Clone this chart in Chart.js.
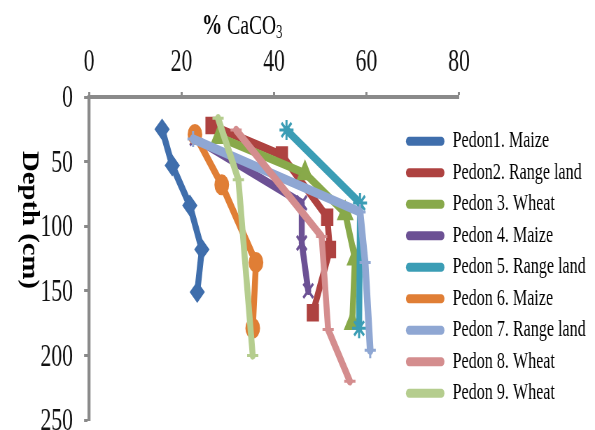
<!DOCTYPE html>
<html>
<head>
<meta charset="utf-8">
<script src="https://cdn.jsdelivr.net/npm/chart.js@4/dist/chart.umd.min.js"></script>
<style>
html,body{margin:0;padding:0;background:#fff;overflow:hidden}
#c{display:block;width:595px !important;height:430px !important}
</style>
</head>
<body>
<canvas id="c" width="850" height="430" style="width:595px;height:430px;display:block"></canvas>
<script>
// ---- data ----
const seriesLabels = ['Pedon1. Maize','Pedon2. Range land','Pedon 3. Wheat','Pedon 4. Maize','Pedon 5. Range land','Pedon 6. Maize','Pedon 7. Range land','Pedon 8. Wheat','Pedon 9. Wheat'];
const pedon1CaCO3 = [15.8, 18.0, 21.8, 24.4, 23.4];
const pedon1Depth = [25, 53, 84, 118, 151];
const pedon2CaCO3 = [26.5, 41.7, 51.5, 52.1, 48.4];
const pedon2Depth = [22, 45, 93, 118, 167];
const pedon3CaCO3 = [28.1, 46.7, 55.4, 57.5, 56.9];
const pedon3Depth = [31, 59, 90, 125, 175];
const pedon4CaCO3 = [22.9, 46.0, 46.0, 47.4];
const pedon4Depth = [32, 82, 113, 150];
const pedon5CaCO3 = [42.7, 58.6, 58.4];
const pedon5Depth = [25.5, 82, 179];
const pedon6CaCO3 = [22.9, 28.7, 36.1, 35.4];
const pedon6Depth = [29, 68, 128, 179];
const pedon7CaCO3 = [22.5, 58.6, 59.7, 60.8];
const pedon7Depth = [32.5, 89, 128, 196];
const pedon8CaCO3 = [31.8, 50.3, 51.7, 56.4];
const pedon8Depth = [25.5, 108, 180, 220];
const pedon9CaCO3 = [27.9, 32.3, 35.4];
const pedon9Depth = [16.5, 64, 200];
const xTickValues = [0, 20, 40, 60, 80];
const yTickValues = [0, 50, 100, 150, 200, 250];
const xTitlePercent = '%';
const xTitleMain = ' CaCO';
const xTitleSub = '3';
const yTitle = 'Depth (cm)';

const caco3 = [pedon1CaCO3, pedon2CaCO3, pedon3CaCO3, pedon4CaCO3, pedon5CaCO3, pedon6CaCO3, pedon7CaCO3, pedon8CaCO3, pedon9CaCO3];
const depth = [pedon1Depth, pedon2Depth, pedon3Depth, pedon4Depth, pedon5Depth, pedon6Depth, pedon7Depth, pedon8Depth, pedon9Depth];

// ---- styles ----
const colors = ['#3F6EAC','#AE4240','#88A94A','#6C5194','#3B9DB5','#E07E35','#8FA7D3','#D48D8E','#B5CD8E'];
const pStyles = ['rectRot','rect','triangle','crossRot','star','circle','cross','line','line'];
const pRadius = [9.5, 11, 12, 10, 10, 9.5, 8, 8, 8];
const pBorder = [2, 2, 2, 3, 3, 2, 3, 3, 3];
const lineW = [8.5, 8.5, 8.5, 8.5, 8.5, 8.5, 9.5, 8.5, 8.5];

const W = 850, SX = 595 / W;
const px = v => v / SX;            // page px -> canvas px (horizontal)

const datasets = seriesLabels.map((lab, i) => ({
  label: lab,
  data: caco3[i].map((v, j) => ({x: v, y: depth[i][j]})),
  borderColor: colors[i],
  backgroundColor: colors[i],
  pointBackgroundColor: colors[i],
  pointBorderColor: colors[i],
  borderWidth: lineW[i],
  pointStyle: pStyles[i],
  pointRadius: pRadius[i],
  pointBorderWidth: pBorder[i],
  showLine: true,
  tension: 0,
  borderJoinStyle: 'round',
  borderCapStyle: 'round',
  order: 9 - i
}));

const titlesPlugin = {
  id: 'titlesAndLegendPlace',
  afterLayout(chart) {
    const lg = chart.legend;
    if (lg) {
      lg.left = px(400); lg.right = W; lg.top = 121.3; lg.bottom = 430;
      lg.width = lg.right - lg.left; lg.height = lg.bottom - lg.top;
    }
  },
  afterDraw(chart) {
    const ctx = chart.ctx;
    ctx.save();
    ctx.fillStyle = '#000';
    ctx.textAlign = 'left';
    ctx.textBaseline = 'alphabetic';
    let x = px(202);
    ctx.font = 'bold 29px "Liberation Serif"';
    ctx.fillText(xTitlePercent, x, 34);
    x += ctx.measureText(xTitlePercent).width;
    ctx.font = '28px "Liberation Serif"';
    ctx.fillText(xTitleMain, x, 34);
    x += ctx.measureText(xTitleMain).width;
    ctx.font = '18px "Liberation Serif"';
    ctx.fillText(xTitleSub, x, 38);
    ctx.translate(px(29), 220);
    ctx.rotate(Math.PI / 2);
    ctx.scale(0.87, 1);
    ctx.font = 'bold 33px "Liberation Serif"';
    ctx.textAlign = 'center';
    ctx.textBaseline = 'middle';
    ctx.fillText(yTitle, 0, 0);
    ctx.restore();
  }
};

Chart.defaults.font.family = '"Liberation Serif", "Times New Roman", serif';
const defaultGen = Chart.defaults.plugins.legend.labels.generateLabels;

const chart = new Chart(document.getElementById('c'), {
  type: 'scatter',
  data: {datasets},
  options: {
    responsive: false,
    devicePixelRatio: 1,
    animation: false,
    events: [],
    layout: {autoPadding: false, padding: {left: 0, top: 0, right: W - 20 - px(459), bottom: 10}},
    scales: {
      x: {
        type: 'linear', position: 'top', min: 0, max: 80,
        afterBuildTicks: s => { s.ticks = xTickValues.map(v => ({value: v})); },
        afterFit: s => { s.height = 97; s.paddingLeft = 0; s.paddingRight = 0; },
        ticks: {font: {size: 31}, color: '#111', padding: 11, maxRotation: 0, autoSkip: false},
        grid: {display: true, drawOnChartArea: false, drawTicks: true, tickLength: 5, tickWidth: 3, tickColor: '#8a8a8a'},
        border: {display: true, color: '#8a8a8a', width: 4}
      },
      y: {
        type: 'linear', position: 'left', min: 0, max: 250, reverse: true,
        afterBuildTicks: s => { s.ticks = yTickValues.map(v => ({value: v})); },
        afterFit: s => { s.width = px(89); s.paddingTop = 0; s.paddingBottom = 0; },
        ticks: {font: {size: 31}, color: '#111', padding: 16, autoSkip: false, labelOffset: 2},
        grid: {display: true, drawOnChartArea: false, drawTicks: true, tickLength: 7, tickWidth: 3, tickColor: '#8a8a8a'},
        border: {display: true, color: '#8a8a8a', width: 4.3}
      }
    },
    plugins: {
      tooltip: {enabled: false},
      title: {display: false},
      legend: {
        display: true, position: 'right', align: 'start', maxWidth: 20,
        labels: {
          font: {size: 23}, color: '#000',
          boxWidth: 55, boxHeight: 9, padding: 8.5,
          useBorderRadius: true, borderRadius: 4.5,
          sort: (a, b) => a.datasetIndex - b.datasetIndex,
          generateLabels(chart) {
            const items = defaultGen(chart);
            items.forEach(it => {
              const c = chart.data.datasets[it.datasetIndex].borderColor;
              it.fillStyle = c; it.strokeStyle = c; it.lineWidth = 0;
            });
            return items;
          }
        }
      }
    }
  },
  plugins: [titlesPlugin]
});
const cv = document.getElementById('c');
cv.style.width = '595px';
cv.style.height = '430px';
</script>
</body>
</html>
